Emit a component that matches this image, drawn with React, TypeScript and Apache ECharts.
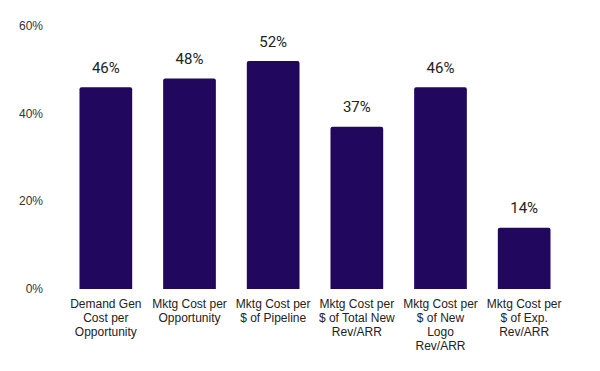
import React, { useEffect, useRef } from "react";
import * as echarts from "echarts";

const categories = [
  "Demand Gen\nCost per\nOpportunity",
  "Mktg Cost per\nOpportunity",
  "Mktg Cost per\n$ of Pipeline",
  "Mktg Cost per\n$ of Total New\nRev/ARR",
  "Mktg Cost per\n$ of New\nLogo\nRev/ARR",
  "Mktg Cost per\n$ of Exp.\nRev/ARR",
];
const values = [46, 48, 52, 37, 46, 14];
const yTicks = [0, 20, 40, 60];

export default function App() {
  const ref = useRef<HTMLDivElement>(null);
  useEffect(() => {
    const chart = echarts.init(ref.current!, null, { renderer: "svg" });
    chart.setOption({
      animation: false,
      grid: { left: 64, right: 34, top: 26, bottom: 82 },
      xAxis: {
        type: "category",
        data: categories,
        axisLine: { show: false },
        axisTick: { show: false },
        axisLabel: {
          interval: 0,
          color: "#222",
          fontFamily: "Liberation Sans, Arial",
          fontSize: 12,
          lineHeight: 14,
          margin: 8,
        },
      },
      yAxis: {
        type: "value",
        min: yTicks[0],
        max: yTicks[yTicks.length - 1],
        interval: 20,
        splitLine: { show: false },
        axisLine: { show: false },
        axisTick: { show: false },
        axisLabel: {
          formatter: "{value}%",
          color: "#333",
          fontFamily: "Liberation Sans, Arial",
          fontSize: 12,
          margin: 21,
        },
      },
      series: [
        {
          type: "bar",
          data: values,
          barWidth: "63%",
          itemStyle: { color: "#22075E", borderRadius: [2, 2, 0, 0] },
          label: {
            show: true,
            position: "top",
            distance: 12,
            formatter: "{c}%",
            color: "#222",
            fontFamily: "Roboto",
            fontSize: 15,
          },
        },
      ],
    });
    return () => chart.dispose();
  }, []);
  return <div ref={ref} style={{ width: 600, height: 371, position: "absolute", left: 0, top: 0 }} />;
}
